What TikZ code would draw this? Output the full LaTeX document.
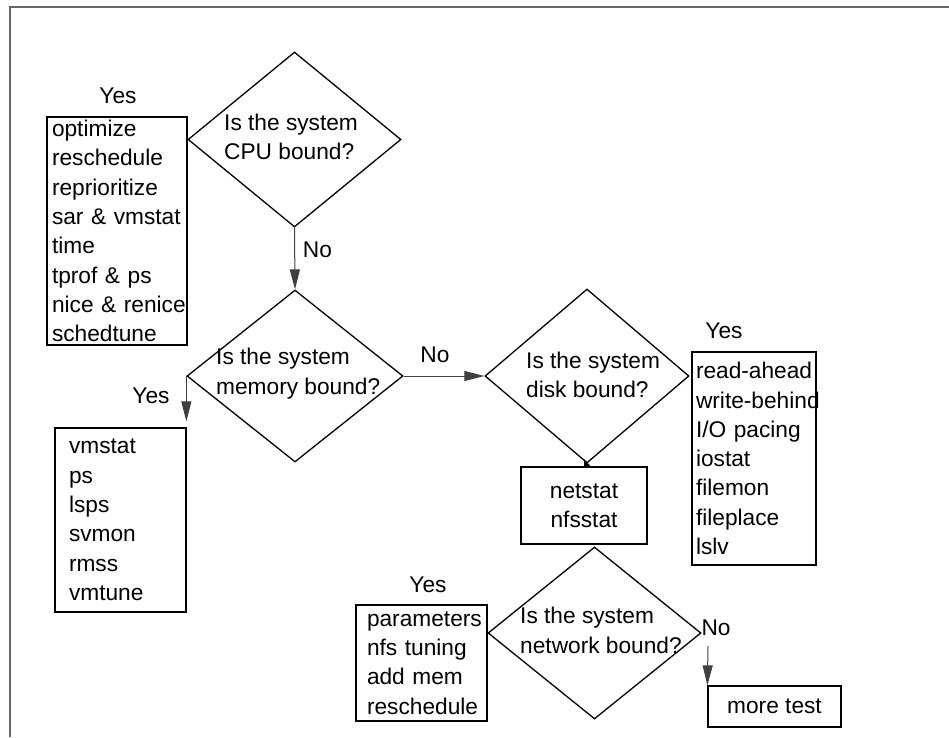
\documentclass[tikz,border=0pt]{standalone}
\usepackage{fontspec}
\setmainfont{Liberation Sans}
\usetikzlibrary{shapes.geometric,arrows.meta}
\begin{document}
\begin{tikzpicture}[x=1pt,y=-1pt,
  every node/.style={font=\fontsize{22.7}{29.3}\selectfont, inner sep=0pt},
  decision/.style={draw, shape=diamond, line width=1.3pt, inner sep=0pt},
  listbox/.style={draw, rectangle, line width=1.3pt, align=left, inner ysep=0pt},
  qtext/.style={anchor=west, align=left},
  conn/.style={draw=black!75, line width=1pt, -{Triangle[length=20pt,width=10pt]}},
  frameline/.style={draw=black!60, line width=2pt}
]
\useasboundingbox (0,0) rectangle (949,737);
% frame
\coordinate (frA) at (10,737);
\coordinate (frB) at (10,7);
\coordinate (frC) at (949,7);
\draw[frameline] (frA) -- (frB) -- (frC);

% decisions
\node[decision, minimum width=213pt, minimum height=175pt] (cpu) at (294.5,139.5) {};
\node[decision, minimum width=216pt, minimum height=172pt] (mem) at (295,376) {};
\node[decision, minimum width=204pt, minimum height=174pt] (disk) at (587,376) {};
\node[decision, minimum width=213pt, minimum height=172pt] (net) at (594.5,633) {};

\node[qtext] (cpuT) at (224,137) {Is the system\\CPU bound?};
\node[qtext] (memT) at (216,373.5) {Is the system\\memory bound?};
\node[qtext] (diskT) at (526,375) {Is the system\\disk bound?};
\node[qtext] (netT) at (520,630.5) {Is the system\\network bound?};

% boxes
\node[listbox, minimum width=140pt, minimum height=228pt, text width=130pt, inner xsep=5pt] (b1) at (117,231)
  {optimize\\reschedule\\reprioritize\\\mbox{sar \& vmstat}\\time\\\mbox{tprof \& ps}\\\mbox{nice \& renice}\\schedtune};
\node[listbox, minimum width=131pt, minimum height=184pt, text width=103pt, inner xsep=14pt] (b2) at (120.5,520)
  {vmstat\\ps\\lsps\\svmon\\rmss\\vmtune};
\node[listbox, minimum width=124pt, minimum height=213pt, text width=116pt, inner xsep=4pt] (b3) at (754,458.5)
  {\mbox{read-ahead}\\\mbox{write-behind}\\\mbox{I/O pacing}\\iostat\\filemon\\fileplace\\lslv};
\node[listbox, minimum width=131pt, minimum height=116pt, text width=109pt, inner xsep=11pt] (b4) at (421.5,663)
  {parameters\\\mbox{nfs tuning}\\\mbox{add mem}\\reschedule};
\node[draw, rectangle, line width=1.3pt, align=center, minimum width=126pt, minimum height=77pt] (nfsbox) at (584,505.5)
  {netstat\\nfsstat};
\node[draw, rectangle, line width=1.3pt, minimum width=133pt, minimum height=41pt] (more) at (774.5,706.5)
  {more test};

% labels
\node (yes1) at (118,95.5) {Yes};
\node (no1) at (317.5,250) {No};
\node (yes2) at (151,395.5) {Yes};
\node (no2) at (435,355) {No};
\node (yes3) at (724,330.5) {Yes};
\node (yes4) at (428,585) {Yes};
\node (no4) at (716,627.5) {No};

% connectors
\draw[conn] (cpu.south) -- (mem.north);
\draw[conn, shorten >=6pt] (mem.west) -- (mem.west |- b2.north);
\draw[conn] (mem.east) -- (disk.west);
\draw[draw=black, line width=1pt, -{Triangle[length=5pt,width=10pt]}] (disk.south) -- (nfsbox.north);
\coordinate (noStart) at (708,646);
\draw[conn] (noStart) -- (more.north west);
\end{tikzpicture}
\end{document}
